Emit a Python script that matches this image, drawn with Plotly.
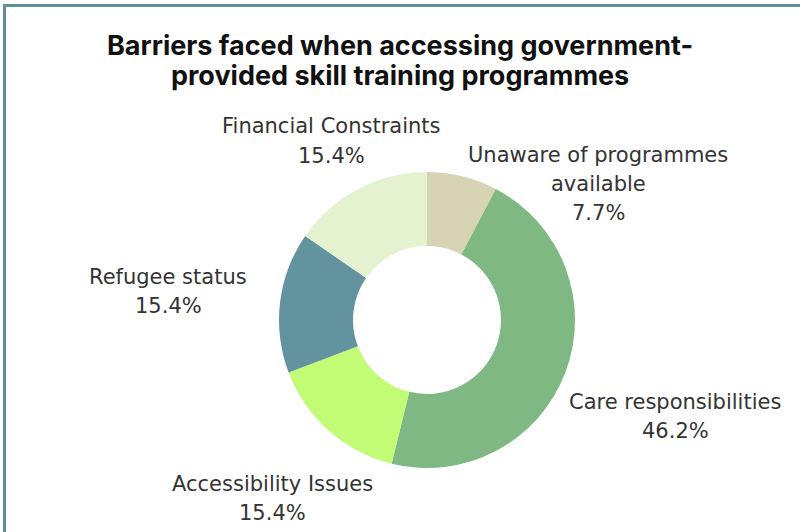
import plotly.graph_objects as go

# Barrier categories, clockwise from 12 o'clock
labels = [
    "Unaware of programmes<br>available",
    "Care responsibilities",
    "Accessibility Issues",
    "Refugee status",
    "Financial Constraints",
]
values = [1, 6, 2, 2, 2]
colors = ["#d6d4b4", "#7fb883", "#c2fb75", "#62939e", "#e5f2cf"]

W, H = 800, 532
LINE_GAP = 29

# pixel centres of each outside label block (x, y from top)
label_pos = [(598, 184), (675, 416), (272, 498), (168, 291), (331, 141)]

fig = go.Figure(
    go.Pie(
        labels=labels,
        values=values,
        hole=0.5,
        sort=False,
        direction="clockwise",
        rotation=0,
        marker=dict(colors=colors, line=dict(width=0)),
        textinfo="none",
        showlegend=False,
        hoverinfo="label+percent",
        domain=dict(x=[279 / W, 575 / W], y=[64 / H, 360 / H]),
        automargin=False,
    )
)

label_font = dict(family="DejaVu Sans, sans-serif", size=21, color="#333333")

total = sum(values)
annotations = []
for lab, v, (px, py) in zip(labels, values, label_pos):
    lines = lab.split("<br>") + [f"{v / total * 100:.1f}%"]
    top = py - LINE_GAP * (len(lines) - 1) / 2
    for i, line in enumerate(lines):
        annotations.append(
            dict(
                text=line,
                x=px / W,
                y=1 - (top + i * LINE_GAP) / H,
                xref="paper",
                yref="paper",
                xanchor="center",
                yanchor="middle",
                showarrow=False,
                font=label_font,
            )
        )

# title, one annotation per line
title_lines = ["Barriers faced when accessing government-", "provided skill training programmes"]
for line, py in zip(title_lines, [45, 76]):
    annotations.append(
        dict(
            text=f"<b>{line}</b>",
            x=0.5,
            y=1 - py / H,
            xref="paper",
            yref="paper",
            xanchor="center",
            yanchor="middle",
            showarrow=False,
            font=dict(family="Inter, sans-serif", size=27, color="#111111"),
        )
    )

fig.update_layout(
    width=W,
    height=H,
    margin=dict(l=0, r=0, t=0, b=0),
    paper_bgcolor="white",
    plot_bgcolor="white",
    annotations=annotations,
    shapes=[
        dict(
            type="rect",
            xref="paper",
            yref="paper",
            x0=4.5 / W,
            x1=1.05,
            y0=-0.05,
            y1=1 - 5.5 / H,
            line=dict(color="#5f8e99", width=3),
            fillcolor="rgba(0,0,0,0)",
        )
    ],
)

fig.write_html("out.html")
